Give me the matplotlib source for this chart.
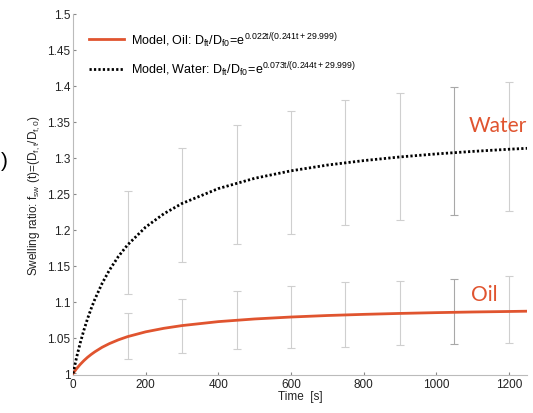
import numpy as np
import matplotlib
matplotlib.use("Agg")
import matplotlib.pyplot as plt

plt.rcParams['font.family'] = ['Liberation Sans', 'DejaVu Sans']
plt.rcParams['mathtext.fontset'] = 'custom'
plt.rcParams['mathtext.rm'] = 'Liberation Sans'

# model curves
t_model = [0, 10, 20, 30, 40, 50, 60, 80, 100, 125, 150, 200, 250, 300, 400,
           500, 600, 700, 800, 900, 1000, 1100, 1200, 1250]
oil_model = [1.0, 1.0068, 1.0127, 1.0179, 1.0225, 1.0265, 1.0301, 1.0364, 1.0415,
             1.0468, 1.0512, 1.0579, 1.0628, 1.0666, 1.0721, 1.0758, 1.0785,
             1.0806, 1.0822, 1.0835, 1.0846, 1.0855, 1.0862, 1.0866]
water_model = [1.0, 1.0228, 1.0428, 1.0604, 1.0762, 1.0903, 1.1031, 1.1252, 1.1436,
               1.1628, 1.1787, 1.2036, 1.2221, 1.2364, 1.2571, 1.2714, 1.2818,
               1.2898, 1.2960, 1.3011, 1.3053, 1.3088, 1.3118, 1.3131]

# error bars (measured ranges)
t_err = [150, 300, 450, 600, 750, 900, 1050, 1200]
oil_low = [1.020, 1.029, 1.034, 1.036, 1.037, 1.039, 1.041, 1.042]
oil_high = [1.084, 1.103, 1.114, 1.121, 1.127, 1.128, 1.132, 1.135]
water_low = [1.111, 1.155, 1.180, 1.194, 1.206, 1.214, 1.220, 1.226]
water_high = [1.254, 1.313, 1.346, 1.365, 1.380, 1.390, 1.398, 1.406]

x_ticks = [0, 200, 400, 600, 800, 1000, 1200]
y_ticks = [1.0, 1.05, 1.1, 1.15, 1.2, 1.25, 1.3, 1.35, 1.4, 1.45, 1.5]
y_tick_labels = ['1', '1.05', '1.1', '1.15', '1.2', '1.25', '1.3', '1.35', '1.4', '1.45', '1.5']

fig = plt.figure(figsize=(5.33, 4.14), dpi=100)
ax = fig.add_axes([0.137, 0.092, 0.852, 0.872])

red = '#e0542f'
errc = '#cfcfcf'

for lo, hi in [(oil_low, oil_high), (water_low, water_high)]:
    lo = np.array(lo); hi = np.array(hi)
    mid = (lo + hi) / 2
    for i, t in enumerate(t_err):
        c = '#a8a8a8' if t == 1050 else errc
        ax.errorbar([t], [mid[i]], yerr=[(hi[i] - lo[i]) / 2], fmt='none',
                    ecolor=c, elinewidth=0.8, capsize=3, capthick=0.8, zorder=1)

ax.plot(t_model, oil_model, color=red, lw=2.0, zorder=3,
        label=r'Model, Oil: $\mathregular{D_{ft}/D_{f0}\!=\!e^{0.022t/(0.241t+29.999)}}$')
ax.plot(t_model, water_model, color='black', lw=2.0, linestyle=(0, (0.8, 0.8)), zorder=3,
        label=r'Model, Water: $\mathregular{D_{ft}/D_{f0}\!=\!e^{0.073t/(0.244t+29.999)}}$')

ax.set_xlim(0, 1250)
ax.set_ylim(0.998, 1.5)
ax.set_xticks(x_ticks)
ax.set_yticks(y_ticks)
ax.set_yticklabels(y_tick_labels)
ax.tick_params(direction='in', length=2, width=0.8, color='#888888', labelsize=8.5,
               labelcolor='#222222', pad=2)
for s in ['top', 'right']:
    ax.spines[s].set_visible(False)
for s in ['left', 'bottom']:
    ax.spines[s].set_color('#bbbbbb')
    ax.spines[s].set_linewidth(0.8)

ax.set_xlabel('Time  [s]', fontsize=8.5, labelpad=0, color='#222222')
ax.set_ylabel(r'Swelling ratio: $\mathregular{f_{sw}}$ (t)=($\mathregular{D_{f,t}/D_{f,0}}$)',
              fontsize=8.5, labelpad=4, color='#222222')

leg = ax.legend(loc='upper left', frameon=False, fontsize=9, handlelength=2.8,
                bbox_to_anchor=(0.015, 0.98), labelspacing=0.85, handletextpad=0.6,
                borderpad=0.2)

ax.text(1250, 1.345, 'Water', color=red, fontsize=15, ha='right', va='center',
        family=['Lato', 'DejaVu Sans'])
ax.text(1170, 1.111, 'Oil', color=red, fontsize=15, ha='right', va='center',
        family=['Lato', 'DejaVu Sans'])

fig.text(0.001, 1 - 162 / 414, ')', fontsize=15, va='center', ha='left')

fig.savefig('out.png', dpi=100)
